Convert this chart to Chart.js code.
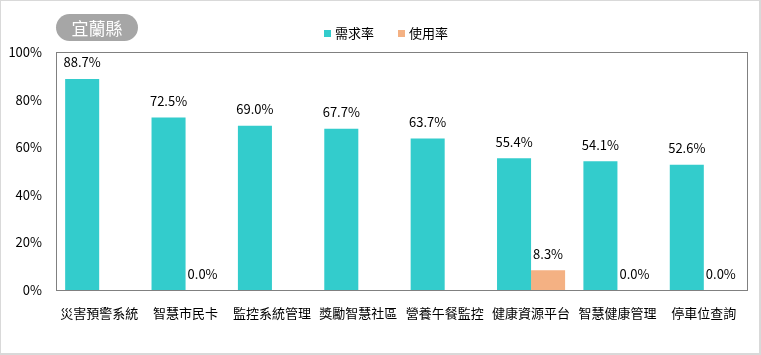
<!DOCTYPE html>
<html>
<head>
<meta charset="utf-8">
<script src="https://cdn.jsdelivr.net/npm/chart.js@4/dist/chart.umd.min.js"></script>
<style>
  body { margin: 0; background: #fff; }
  canvas { display: block; }
</style>
</head>
<body>
<canvas id="chart" width="761" height="355"></canvas>
<script>
// 宜蘭縣 - demand vs usage rates
const categories = ['災害預警系統', '智慧市民卡', '監控系統管理', '獎勵智慧社區', '營養午餐監控', '健康資源平台', '智慧健康管理', '停車位查詢'];
const demandRate = [88.7, 72.5, 69.0, 67.7, 63.7, 55.4, 54.1, 52.6];
const usageRate = [null, 0.0, null, null, null, 8.3, 0.0, 0.0];
const seriesNames = ['需求率', '使用率'];
const seriesColors = ['#33CCCC', '#F4B183'];
const titleText = '宜蘭縣';

const FONT = '"Noto Sans CJK TC", "Noto Sans", sans-serif';

// draws frame, title pill, legend and value labels
const decorations = {
  id: 'decorations',
  beforeDraw(chart) {
    const ctx = chart.ctx;
    ctx.save();
    ctx.fillStyle = '#fff';
    ctx.fillRect(0, 0, chart.width, chart.height);
    ctx.restore();
  },
  afterDraw(chart) {
    const ctx = chart.ctx;
    const area = chart.chartArea;
    ctx.save();

    // outer frame
    ctx.strokeStyle = '#d9d9d9';
    ctx.lineWidth = 2;
    ctx.strokeRect(0, 0, chart.width - 1, chart.height - 1);

    // plot frame
    ctx.strokeStyle = '#808080';
    ctx.lineWidth = 1;
    ctx.strokeRect(Math.round(area.left) + 0.5, Math.round(area.top) + 0.5,
      Math.round(area.right - area.left), Math.round(area.bottom - area.top));

    // title pill
    const tx = 56, ty = 14, tw = 82, th = 27, r = 13.5;
    ctx.fillStyle = '#A6A6A6';
    ctx.beginPath();
    ctx.moveTo(tx + r, ty);
    ctx.lineTo(tx + tw - r, ty);
    ctx.arc(tx + tw - r, ty + r, r, -Math.PI / 2, Math.PI / 2);
    ctx.lineTo(tx + r, ty + th);
    ctx.arc(tx + r, ty + r, r, Math.PI / 2, Math.PI * 1.5);
    ctx.closePath();
    ctx.fill();
    ctx.fillStyle = '#fff';
    ctx.font = '17px ' + FONT;
    ctx.textAlign = 'center';
    ctx.textBaseline = 'middle';
    ctx.fillText(titleText, tx + tw / 2, ty + th / 2 + 1);

    // legend
    ctx.font = '13px ' + FONT;
    ctx.textAlign = 'left';
    const legendX = [324, 398];
    seriesNames.forEach((name, i) => {
      ctx.fillStyle = seriesColors[i];
      ctx.fillRect(legendX[i], 30, 7, 7);
      ctx.fillStyle = '#000';
      ctx.fillText(name, legendX[i] + 11, 33.5);
    });

    // value labels
    ctx.textAlign = 'center';
    ctx.textBaseline = 'alphabetic';
    ctx.fillStyle = '#000';
    chart.data.datasets.forEach((ds, di) => {
      const meta = chart.getDatasetMeta(di);
      meta.data.forEach((bar, i) => {
        const v = ds.data[i];
        if (v === null || v === undefined) return;
        ctx.fillText(v.toFixed(1) + '%', bar.x, bar.y - 11.5);
      });
    });

    ctx.restore();
  }
};

new Chart(document.getElementById('chart'), {
  type: 'bar',
  data: {
    labels: categories,
    datasets: [
      { label: seriesNames[0], data: demandRate, backgroundColor: seriesColors[0], categoryPercentage: 0.788, barPercentage: 1 },
      { label: seriesNames[1], data: usageRate, backgroundColor: seriesColors[1], categoryPercentage: 0.788, barPercentage: 1 }
    ]
  },
  options: {
    responsive: false,
    animation: false,
    layout: { padding: { left: 0, right: 14, top: 52, bottom: 0 } },
    plugins: {
      legend: { display: false },
      title: { display: false },
      tooltip: { enabled: false }
    },
    scales: {
      x: {
        grid: { display: false, drawTicks: false },
        border: { display: false },
        ticks: { color: '#000', font: { size: 13, family: FONT }, padding: 15, maxRotation: 0, autoSkip: false },
        afterFit(scale) { scale.height = 65; }
      },
      y: {
        min: 0,
        max: 100,
        grid: { display: false, drawTicks: false },
        border: { display: false },
        ticks: {
          stepSize: 20,
          color: '#000',
          font: { size: 13, family: FONT },
          padding: 14,
          callback: v => v + '%'
        },
        afterFit(scale) { scale.width = 56; }
      }
    }
  },
  plugins: [decorations]
});
</script>
</body>
</html>
